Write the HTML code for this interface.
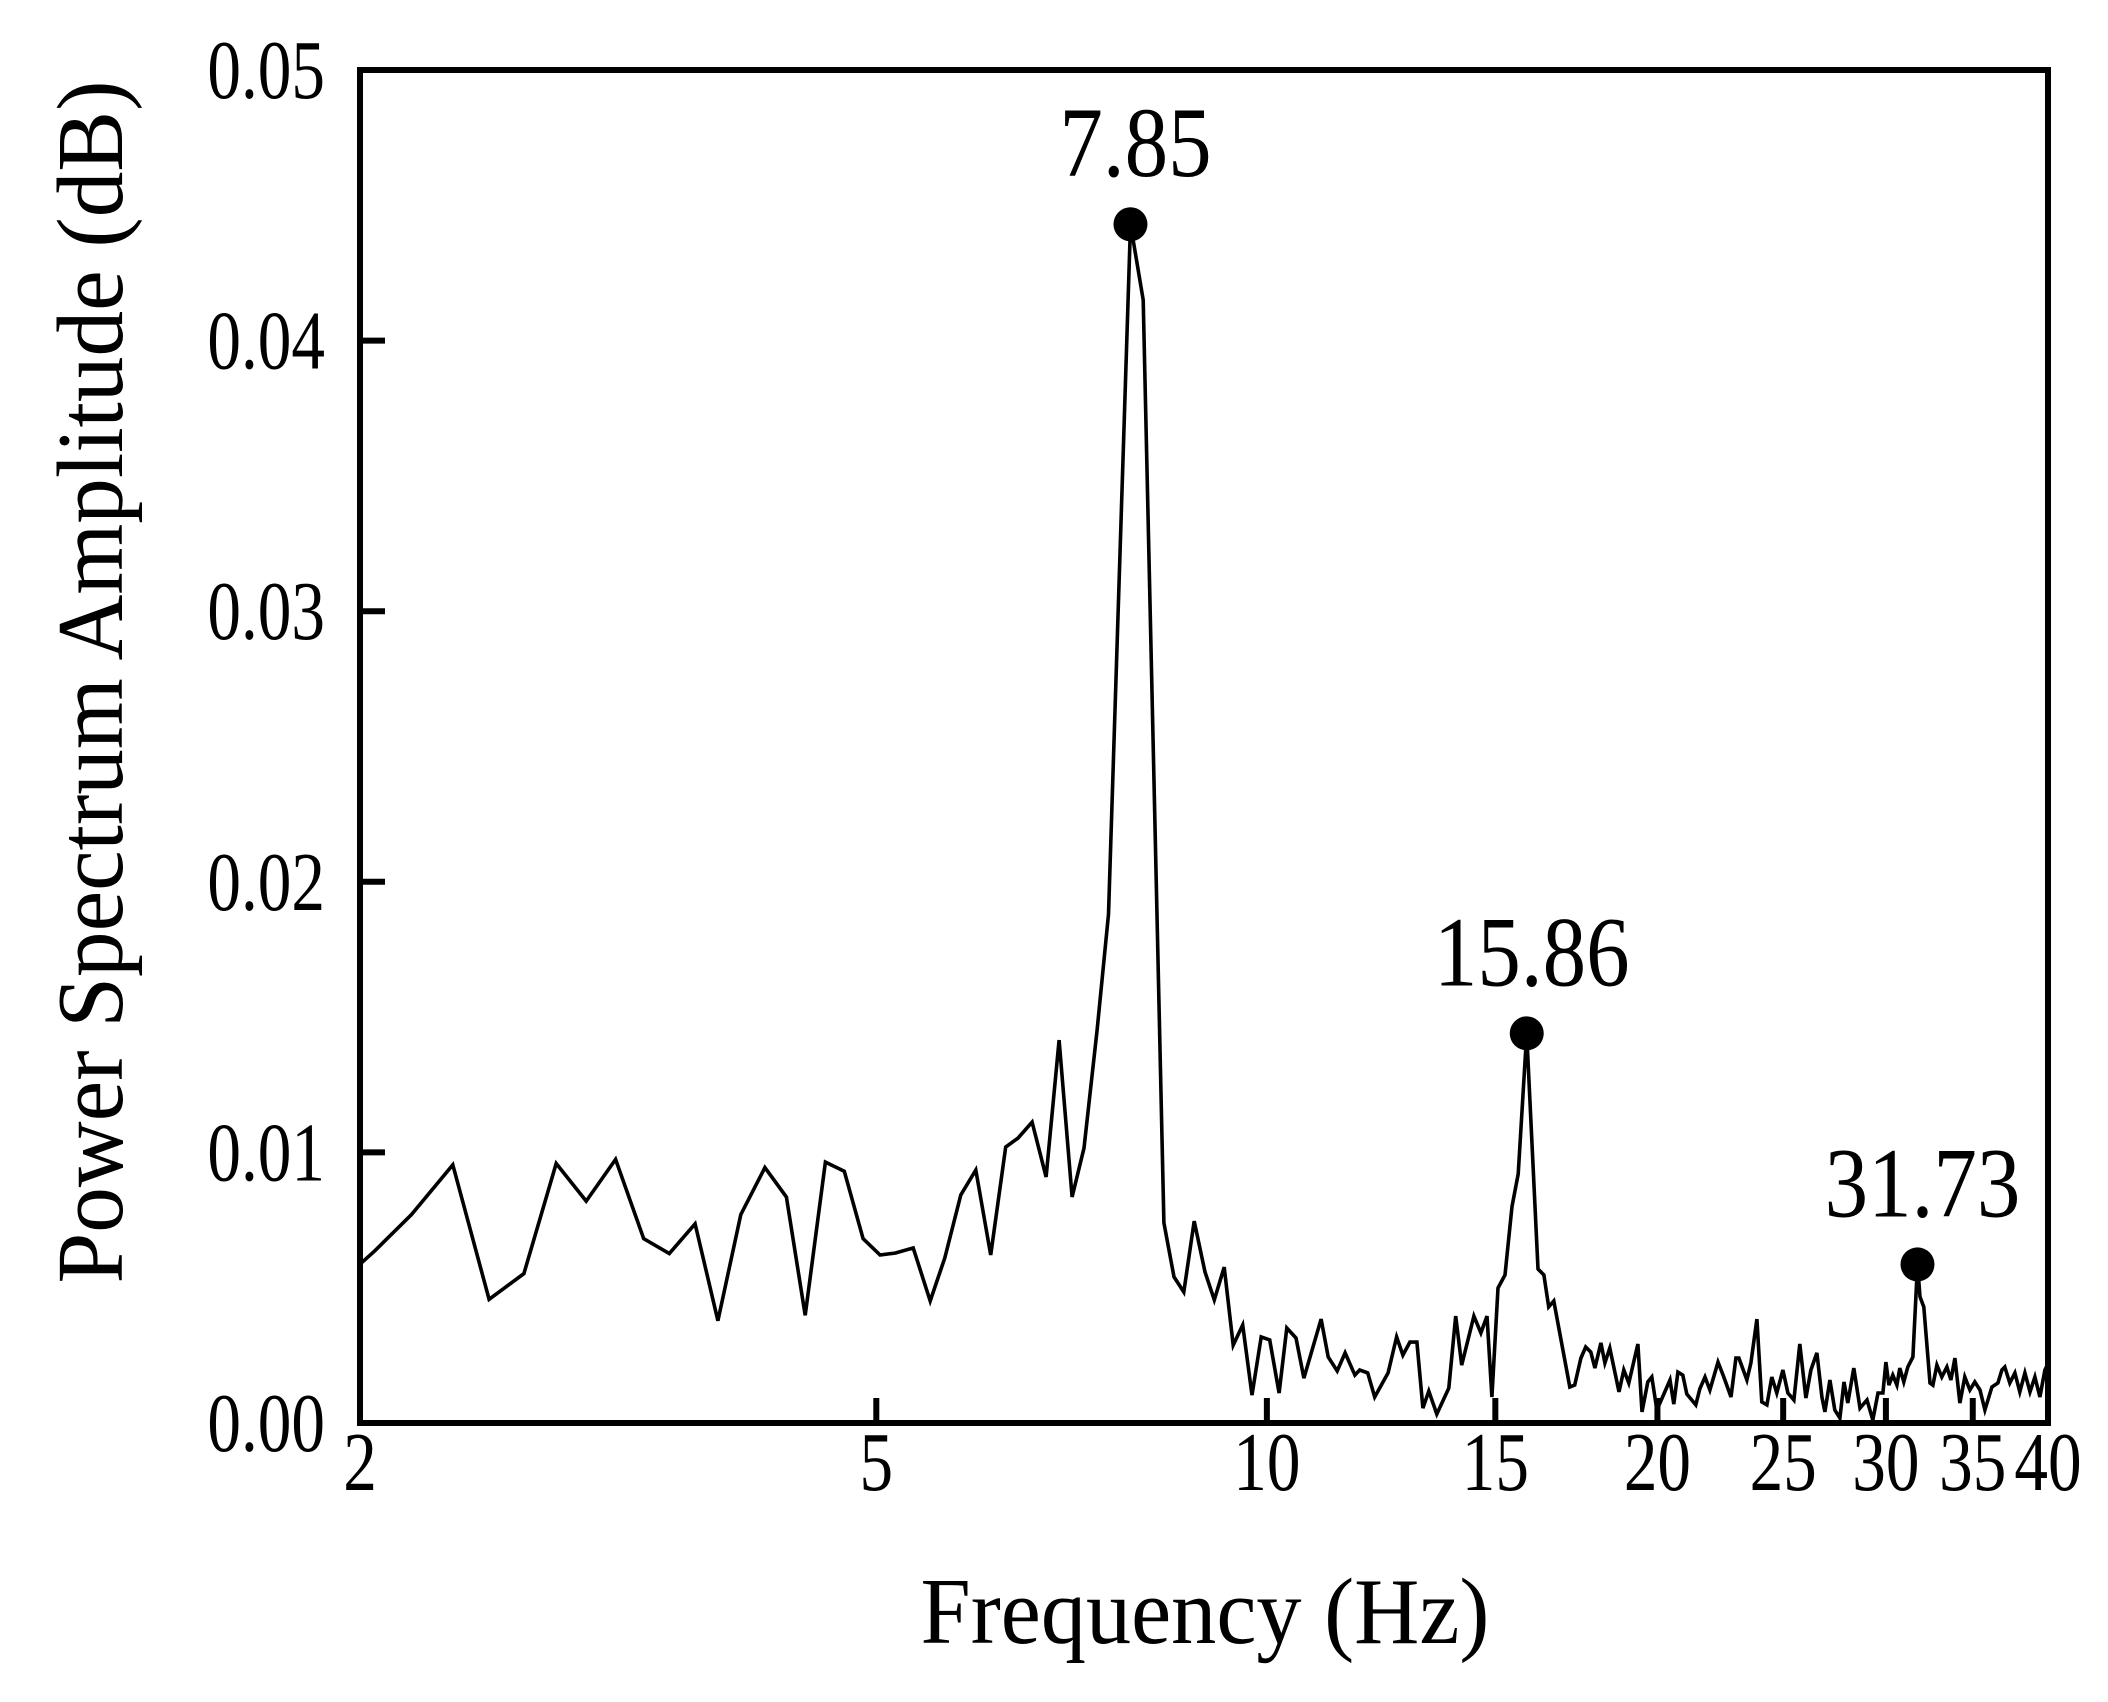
<!DOCTYPE html>
<html><head><meta charset="utf-8"><style>
html,body{margin:0;padding:0;background:#fff;}
svg{display:block;font-family:"Liberation Serif",serif;}
</style></head><body>
<svg id="chart" width="2108" height="1702" viewBox="0 0 2108 1702" xmlns="http://www.w3.org/2000/svg">
<rect x="0" y="0" width="2108" height="1702" fill="#fff"/>
<g id="plot"></g>
</svg>
<script>
const freqs = [2.00,2.053,2.191,2.358,2.515,2.675,2.833,2.988,3.148,3.309,3.463,3.625,3.775,3.931,4.103,4.263,4.407,4.568,4.724,4.884,
5.034,5.170,5.338,5.502,5.646,5.809,5.966,6.126,6.291,6.43,6.592,6.758,6.916,7.077,7.228,7.398,7.55,7.85,8.03,8.33,
8.48,8.63,8.79,8.96,9.11,9.27,9.42,9.58,9.74,9.90,10.05,10.22,10.36,10.53,10.68,11.01,11.15,11.33,11.49,
11.69,11.79,11.96,12.11,12.40,12.59,12.73,12.89,13.05,13.19,13.33,13.52,13.81,13.98,14.13,14.44,14.62,14.78,14.91,15.07,15.26,15.45,15.62,15.86,
16.18,16.35,16.49,16.64,17.12,17.27,17.46,17.61,17.77,17.90,18.09,18.22,18.38,18.68,18.84,19.01,19.32,19.46,19.66,19.80,19.98,
20.45,20.59,20.74,20.92,21.07,21.41,21.56,21.76,21.95,22.27,22.50,22.79,22.99,23.11,23.44,23.61,23.86,24.07,24.29,24.50,24.72,24.99,
25.21,25.48,25.75,26.03,26.26,26.54,26.78,26.92,27.16,27.40,27.65,27.85,28.04,28.34,28.65,29.01,29.31,29.58,29.84,30.00,30.16,30.37,30.59,30.75,30.97,31.19,31.47,31.73,
31.87,32.09,32.44,32.61,32.84,33.13,33.43,33.67,33.91,34.21,34.51,34.82,35.13,35.45,35.76,36.21,36.60,36.86,37.05,37.38,37.72,38.05,38.39,38.74,39.08,39.43,39.78,40.0];
const amps = [0.00587,0.00636,0.0077,0.00954,0.00457,0.00552,0.00959,0.0082,0.00974,0.00681,0.00626,0.00736,0.00378,0.0077,0.00944,0.00835,0.00398,0.00964,0.0093,0.00681,
0.00621,0.00628,0.00647,0.00451,0.0061,0.00843,0.00935,0.00621,0.0102,0.01053,0.01112,0.00909,0.01415,0.00835,0.01016,0.01452,0.0188,0.0443,0.0415,0.0074,
0.0054,0.00484,0.00746,0.00558,0.00455,0.00576,0.00288,0.00362,0.00103,0.00318,0.00307,0.00111,0.00351,0.00314,0.00166,0.00384,0.00244,0.00192,0.00259,
0.00177,0.00196,0.00185,0.00096,0.00185,0.00318,0.00251,0.00299,0.00299,0.00055,0.00118,0.00033,0.00129,0.00395,0.00214,0.00395,0.00333,0.00395,0.00096,0.00499,0.00547,0.0080,0.0092,0.0144,
0.00569,0.00547,0.00429,0.00451,0.00133,0.0014,0.0024,0.00281,0.00262,0.00203,0.00296,0.00222,0.00277,0.00115,0.00196,0.00148,0.00292,0.00041,0.00152,0.0017,0.00048,
0.00159,0.0007,0.00188,0.00177,0.00107,0.00067,0.00126,0.0017,0.00122,0.00225,0.0017,0.00096,0.0024,0.0024,0.00159,0.00222,0.00384,0.00078,0.00067,0.0017,0.00111,0.00196,
0.00111,0.00085,0.00292,0.00092,0.00196,0.00259,0.00096,0.00041,0.00159,0.00048,0.00018,0.00152,0.00074,0.00203,0.00055,0.00085,0.00011,0.00111,0.00111,0.00225,0.0014,0.00177,0.0014,0.00203,0.00152,0.00207,0.00244,0.00586,
0.00466,0.00429,0.00148,0.0014,0.00214,0.0017,0.00207,0.00159,0.0024,0.00074,0.0017,0.00122,0.00152,0.00122,0.00048,0.00133,0.00148,0.00196,0.00207,0.00148,0.00185,0.00115,0.00185,0.00115,0.0017,0.00096,0.00196,0.0022];
const peakFreqs = [7.85, 15.86, 31.73];
const peakAmps = [0.0443, 0.0144, 0.00586];
const peakLabels = ["7.85", "15.86", "31.73"];
const xTicks = [2, 5, 10, 15, 20, 25, 30, 35, 40];
const xTickLabels = ["2", "5", "10", "15", "20", "25", "30", "35", "40"];
const yTicks = [0, 0.01, 0.02, 0.03, 0.04, 0.05];
const yTickLabels = ["0.00", "0.01", "0.02", "0.03", "0.04", "0.05"];

const L = 360, R = 2048, T = 70, B = 1423;
const xMin = 2, xMax = 40, yMin = 0, yMax = 0.05;
function xScale(f){ return L + (Math.log10(f) - Math.log10(xMin)) / (Math.log10(xMax) - Math.log10(xMin)) * (R - L); }
function yScale(v){ return B - (v - yMin) / (yMax - yMin) * (B - T); }

const NS = "http://www.w3.org/2000/svg";
const g = document.getElementById('plot');
function mk(tag, attrs){ const e = document.createElementNS(NS, tag); for (const k in attrs) e.setAttribute(k, attrs[k]); g.appendChild(e); return e; }
function condense(el, f){ const w = el.getComputedTextLength(); el.setAttribute('textLength', (w * f).toFixed(1)); el.setAttribute('lengthAdjust', 'spacingAndGlyphs'); }

// series line
let d = "";
for (let i = 0; i < freqs.length; i++) d += (i ? "L" : "M") + xScale(freqs[i]).toFixed(1) + " " + yScale(amps[i]).toFixed(1);
const line = mk('path', {d: d, fill: 'none', stroke: '#000', 'stroke-width': 3.6, 'stroke-linejoin': 'miter'});



// axes frame
const frame = mk('rect', {x: L, y: T, width: R - L, height: B - T, fill: 'none', stroke: '#000', 'stroke-width': 6});



// x ticks
for (let i = 0; i < xTicks.length; i++) {
  const x = xScale(xTicks[i]);
  const t = mk('line', {x1: x, x2: x, y1: B, y2: B - 25, stroke: '#000', 'stroke-width': 6});
  
  
  const lb = mk('text', {x: x, y: 1490, 'font-size': 84, 'text-anchor': 'middle'});
  lb.textContent = xTickLabels[i];
  
  
  condense(lb, 0.8);
}
// y ticks
for (let i = 0; i < yTicks.length; i++) {
  const y = yScale(yTicks[i]);
  const t = mk('line', {x1: L, x2: L + 25, y1: y, y2: y, stroke: '#000', 'stroke-width': 6});
  
  
  const lb = mk('text', {x: 325, y: y + 28, 'font-size': 84, 'text-anchor': 'end'});
  lb.textContent = yTickLabels[i];
  
  
  condense(lb, 0.8);
}
// peaks
for (let i = 0; i < peakFreqs.length; i++) {
  const cx = xScale(peakFreqs[i]), cy = yScale(peakAmps[i]);
  const c = mk('circle', {cx: cx, cy: cy, r: 17, fill: '#000'});
  
  
  const lb = mk('text', {x: cx + 5, y: cy - 48, 'font-size': 100, 'text-anchor': 'middle'});
  lb.textContent = peakLabels[i];
  
  
  condense(lb, 0.87);
}
// axis titles
const xt = mk('text', {x: 1205, y: 1643, 'font-size': 94, 'text-anchor': 'middle', textLength: 569, lengthAdjust: 'spacingAndGlyphs'});
xt.textContent = 'Frequency (Hz)';


const yt = mk('text', {x: 0, y: 0, 'font-size': 94, 'text-anchor': 'middle', transform: 'translate(122,682) rotate(-90)', textLength: 1203, lengthAdjust: 'spacingAndGlyphs'});
yt.textContent = 'Power Spectrum Amplitude (dB)';


</script>
</body></html>
